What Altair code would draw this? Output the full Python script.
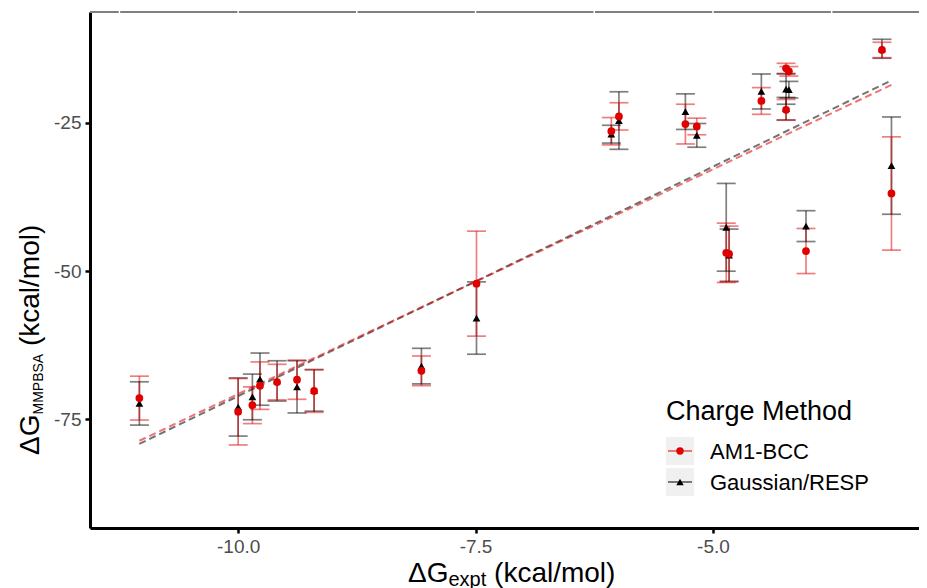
import altair as alt
import pandas as pd

FONT = "Liberation Sans"

methods = ["AM1-BCC", "Gaussian/RESP"]
method_colors = ["#e00000", "#000000"]
method_shapes = ["circle", "triangle-up"]

dg_expt = [-11.04, -10.00, -9.85, -9.77, -9.59, -9.38, -9.20, -8.07, -7.49, -6.07, -5.99,
           -5.29, -5.17, -4.86, -4.83, -4.49, -4.23, -4.20, -4.23, -4.02, -3.22, -3.12]
am1_mean = [-71.4, -73.7, -72.6, -69.3, -68.7, -68.3, -70.2, -66.8, -52.1, -26.4, -23.9,
            -25.2, -25.6, -46.9, -47.1, -21.3, -15.8, -16.3, -22.8, -46.6, -12.7, -36.9]
am1_sd = [3.7, 5.6, 3.1, 4.0, 3.0, 3.3, 3.6, 2.5, 8.85, 2.3, 2.3,
          3.35, 1.4, 5.0, 4.7, 2.25, 0.85, 0.8, 1.75, 3.8, 1.3, 9.55]
resp_mean = [-72.3, -72.9, -71.2, -68.2, -68.5, -69.5, -70.1, -66.0, -57.9, -26.9, -24.6,
             -23.1, -27.1, -42.6, -47.3, -19.7, -19.3, -19.4, -22.6, -42.4, -12.5, -32.2]
resp_sd = [3.65, 4.9, 3.85, 4.4, 3.4, 4.4, 3.5, 3.0, 6.1, 1.5, 4.85,
           3.0, 2.0, 7.4, 4.4, 2.95, 2.55, 1.4, 1.9, 2.6, 1.6, 8.2]

x_ticks = [-10.0, -7.5, -5.0]
y_ticks = [-75, -50, -25]
x_grid = [-11.25, -10.0, -8.75, -7.5, -6.25, -5.0, -3.75]

rows = []
for m, means, sds in [(methods[1], resp_mean, resp_sd), (methods[0], am1_mean, am1_sd)]:
    for xv, yv, sv in zip(dg_expt, means, sds):
        rows.append({"method": m, "dg_expt": xv, "dg": yv, "lo": yv - sv, "hi": yv + sv})
df = pd.DataFrame(rows)

W, H = 829, 516

xs = alt.Scale(domain=[-11.56, -2.83], nice=False, zero=False)
ys = alt.Scale(domain=[-93.3, -6.3], nice=False, zero=False)
axis_common = dict(title=None, grid=False, domainColor="black", domainWidth=3,
                   tickColor="black", tickWidth=2.5, tickSize=5, labelFontSize=19,
                   labelColor="#4d4d4d", labelFont=FONT, labelPadding=4)
xax = alt.Axis(values=x_ticks,
               labelExpr="datum.value < 0 ? '-' + format(-datum.value, '.1f') : format(datum.value, '.1f')",
               **axis_common)
yax = alt.Axis(values=y_ticks,
               labelExpr="datum.value < 0 ? '-' + format(-datum.value, 'd') : format(datum.value, 'd')",
               **axis_common)

X = alt.X("dg_expt:Q", scale=xs, axis=xax)
def Y(field):
    return alt.Y(f"{field}:Q", scale=ys, axis=yax)

color = alt.Color("method:N", scale=alt.Scale(domain=methods, range=method_colors), legend=None)
shape = alt.Shape("method:N", scale=alt.Scale(domain=methods, range=method_shapes), legend=None)

base = alt.Chart(df)
bars = base.mark_rule(strokeWidth=1.7, opacity=0.5).encode(x=X, y=Y("lo"), y2="hi:Q", color=color)
cap_lo = base.mark_tick(orient="horizontal", size=19, thickness=1.7, opacity=0.5).encode(x=X, y=Y("lo"), color=color)
cap_hi = base.mark_tick(orient="horizontal", size=19, thickness=1.7, opacity=0.5).encode(x=X, y=Y("hi"), color=color)
pts = base.mark_point(filled=True, opacity=1, size=60).encode(x=X, y=Y("dg"), color=color, shape=shape)
reg = base.transform_regression("dg_expt", "dg", groupby=["method"],
                                extent=[min(dg_expt), max(dg_expt)]).mark_line(
    strokeDash=[7, 4], strokeWidth=2, opacity=0.55).encode(x=X, y=Y("dg"), color=color)

# top panel edge with gaps at grid positions
top_line = alt.Chart(pd.DataFrame({"a": [0]})).mark_rule(color="#808080", strokeWidth=2).encode(
    x=alt.value(0), x2=alt.value(W), y=alt.value(0))
top_gaps = alt.Chart(pd.DataFrame({"g": x_grid})).mark_rule(color="white", strokeWidth=1.5).encode(
    x=alt.X("g:Q", scale=xs, axis=xax), y=alt.value(-2), y2=alt.value(2))

def text(t, x, y, size, angle=0, color="black"):
    return alt.Chart(pd.DataFrame({"t": [t]})).mark_text(
        align="left", baseline="alphabetic", fontSize=size, font=FONT, angle=angle, color=color
    ).encode(text="t:N", x=alt.value(x), y=alt.value(y))

# Arial / Liberation Sans advance widths (em)
adv = {"Δ": 0.668, "G": 0.778, "M": 0.833, "P": 0.667, "B": 0.667, "S": 0.667, "A": 0.667,
       "e": 0.556, "x": 0.5, "p": 0.556, "t": 0.278, " ": 0.278}
def tw(s, size):
    return sum(adv.get(c, 0.556) for c in s) * size

MAIN, SUBX, SUBY = 28, 20, 14
# x title
x0, yb = 318, 570
x_title = [text("ΔG", x0, yb, MAIN),
           text("expt", x0 + tw("ΔG", MAIN), yb + 4, SUBX),
           text("(kcal/mol)", x0 + tw("ΔG", MAIN) + tw("expt", SUBX) + tw(" ", MAIN), yb, MAIN)]
# y title (rotated)
yx, y0 = -51, 443
y_title = [text("ΔG", yx, y0, MAIN, angle=270),
           text("MMPBSA", yx + 4, y0 - tw("ΔG", MAIN), SUBY, angle=270),
           text("(kcal/mol)", yx, y0 - tw("ΔG", MAIN) - tw("MMPBSA", SUBY) - tw(" ", MAIN), MAIN, angle=270)]

# legend
LX, LY = 576, 425
legend = [text("Charge Method", LX, 408, 27)]
for i, (m, c, s) in enumerate(zip(methods, method_colors, method_shapes)):
    top = LY + i * 31
    d = pd.DataFrame({"method": [m]})
    legend.append(alt.Chart(d).mark_rect(color="#f0f0f0").encode(
        x=alt.value(LX), x2=alt.value(LX + 28), y=alt.value(top), y2=alt.value(top + 28)))
    legend.append(alt.Chart(d).mark_rule(color=c, strokeWidth=1.7, opacity=0.6).encode(
        x=alt.value(LX + 2), x2=alt.value(LX + 26), y=alt.value(top + 14)))
    legend.append(alt.Chart(d).mark_point(filled=True, opacity=1, size=55, color=c, shape=s).encode(
        x=alt.value(LX + 14), y=alt.value(top + 14)))
    legend.append(alt.Chart(d).mark_text(align="left", baseline="middle", fontSize=22, font=FONT,
                                         color="black").encode(
        text="method:N", x=alt.value(LX + 44), y=alt.value(top + 15)))

chart = alt.layer(bars, cap_lo, cap_hi, reg, pts, top_line, top_gaps, *x_title, *y_title, *legend).properties(
    width=W, height=H,
    autosize=alt.AutoSizeParams(type="none"),
    padding={"left": 82, "top": 4, "right": 0, "bottom": 60},
).configure_view(stroke=None)

chart.save("out.html", embed_options={"renderer": "svg", "actions": False})
